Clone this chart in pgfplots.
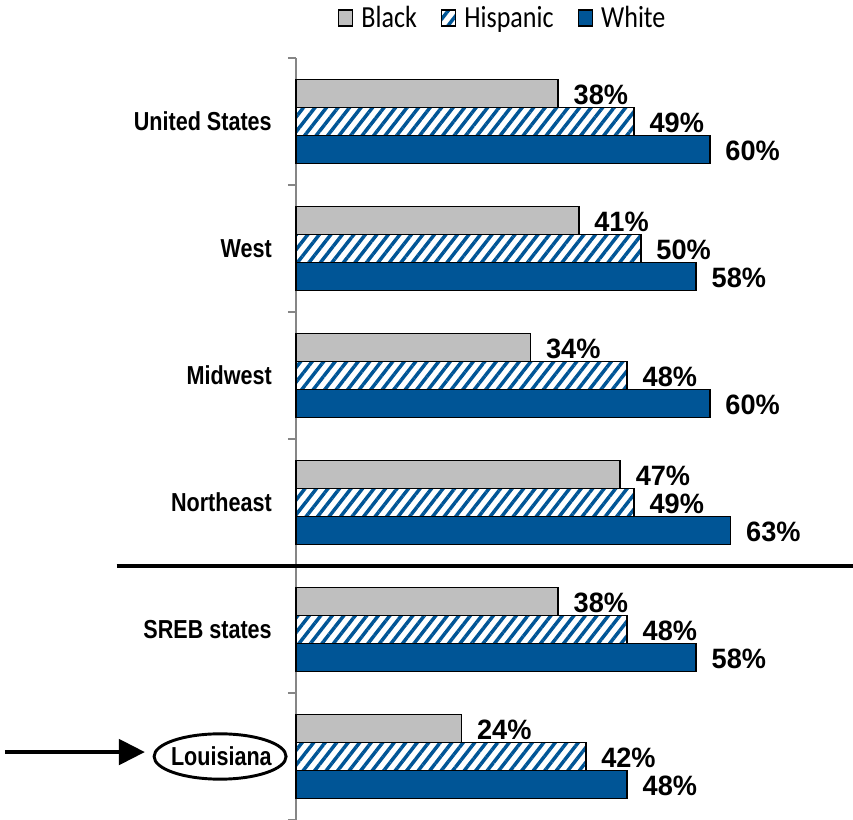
\documentclass[border=0pt]{standalone}
\usepackage{fontspec}
\usepackage{pgfplots}
\usepackage{pgfplotstable}
\pgfplotsset{compat=1.18}
\usetikzlibrary{arrows.meta,patterns.meta}
\setmainfont{Liberation Sans}
\newfontfamily\catfont[FakeStretch=0.83]{Liberation Sans}
\newfontfamily\datafont[FakeStretch=0.97]{Liberation Sans}
\newfontfamily\legfont[FakeStretch=0.85]{Carlito}
\definecolor{barblue}{HTML}{005596}
\definecolor{bargray}{HTML}{BFBFBF}
\definecolor{axgray}{HTML}{868686}
\pgfplotstableread{
y black hisp white
5.5 38 49 60
4.5 41 50 58
3.5 34 48 60
2.5 47 49 63
1.5 38 48 58
0.5 24 42 48
}\data
\begin{document}
\begin{tikzpicture}
\path[use as bounding box] (-222pt,0pt) rectangle (417.75pt,615pt);
\begin{axis}[
  at={(0pt,0pt)}, anchor=south west,
  scale only axis,
  width=414pt, height=571.5pt,
  xmin=0, xmax=80, ymin=0, ymax=6,
  xbar, bar width=21pt,
  axis x line=none,
  axis y line*=left,
  y axis line style={-, color=axgray, line width=1.2pt},
  ytick={0,1,2,3,4,5,6}, yticklabels={},
  tick align=outside, major tick length=6pt,
  ytick style={color=axgray, line width=1.2pt},
  extra y ticks={0.5,1.5,2.5,3.5,4.5,5.5},
  extra y tick labels={Louisiana,SREB states,Northeast,Midwest,West,United States},
  extra y tick style={tick style={draw=none}},
  yticklabel style={font=\catfont\fontsize{19.5}{20}\selectfont\bfseries, inner sep=0pt, xshift=-12pt},
  clip=false,
  nodes near coords={\pgfmathprintnumber[assume math mode=true]{\pgfplotspointmeta}\%},
  every node near coord/.append style={font=\datafont\fontsize{21}{22}\selectfont\bfseries, anchor=west, inner sep=0pt, xshift=11pt, yshift=-1pt, color=black},
  legend style={draw=none, at={(0.375,1.0525)}, anchor=center, legend columns=3,
    font=\legfont\fontsize{23}{24}\selectfont, inner sep=0pt,
    /tikz/every odd column/.append style={column sep=4pt},
    /tikz/every even column/.append style={column sep=16pt}},
  legend image code/.code={\draw[#1, line width=1.1pt] (0pt,-6pt) rectangle (10.5pt,6pt);},
]
\addplot[draw=black, line width=1.2pt, fill=bargray, bar shift=21pt] table[x=black, y=y] {\data};
\addplot[draw=black, line width=1.2pt, pattern={Lines[angle=52, distance=6.8pt, line width=2.6pt]}, pattern color=barblue, bar shift=0pt] table[x=hisp, y=y] {\data};
\addplot[draw=black, line width=1.2pt, fill=barblue, bar shift=-21pt] table[x=white, y=y] {\data};
\legend{Black, Hispanic, White}
\draw[black, line width=3pt] (axis cs:-26,2) -- (axis cs:82,2);
\draw[black, line width=2.2pt] (axis cs:-11,0.5) ellipse [x radius=49.5pt, y radius=17pt];
\draw[black, line width=3pt, -{Triangle[length=19.5pt, width=19pt]}] (axis cs:-42.2,0.535) -- (axis cs:-21.9,0.535);
\end{axis}
\end{tikzpicture}
\end{document}
